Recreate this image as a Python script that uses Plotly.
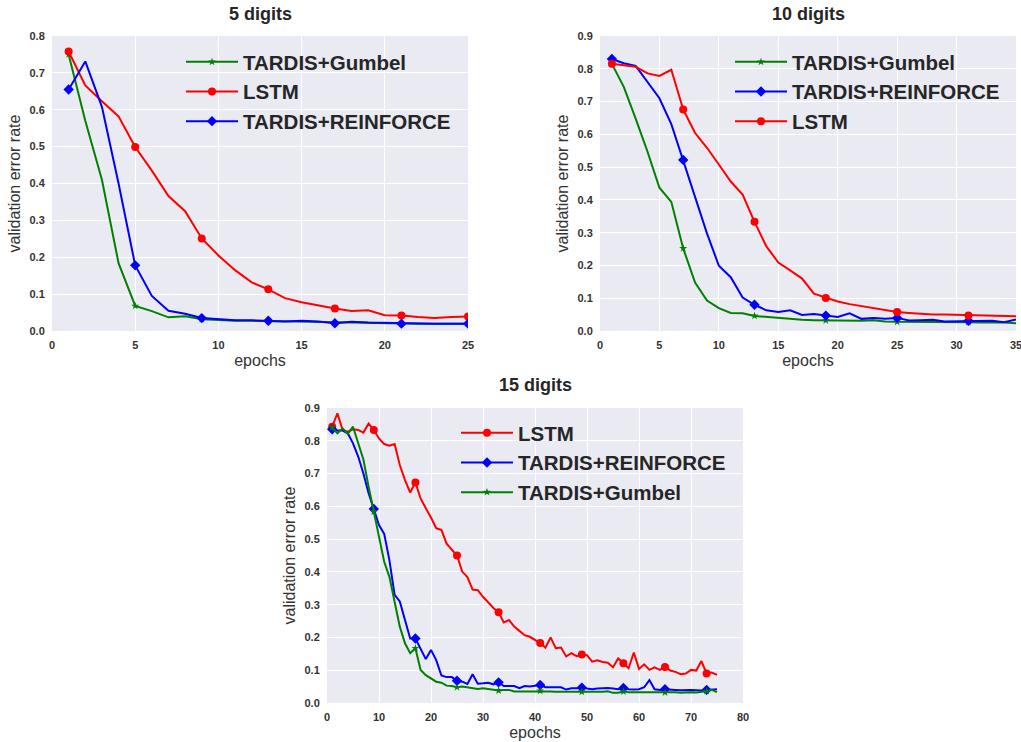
import plotly.graph_objects as go

# ---------------- data ----------------
epochs5 = list(range(1, 26))
gumbel5 = [0.750, 0.570, 0.410, 0.184, 0.068, 0.054, 0.037, 0.040, 0.032, 0.029,
           0.028, 0.028, 0.027, 0.026, 0.025, 0.025, 0.023, 0.023, 0.022, 0.021,
           0.021, 0.020, 0.020, 0.020, 0.020]
lstm5 = [0.758, 0.666, 0.623, 0.582, 0.499, 0.435, 0.366, 0.325, 0.251, 0.205,
         0.165, 0.132, 0.113, 0.089, 0.078, 0.069, 0.061, 0.054, 0.056, 0.043,
         0.042, 0.038, 0.035, 0.038, 0.039]
reinforce5 = [0.655, 0.731, 0.608, 0.400, 0.178, 0.095, 0.055, 0.047, 0.035, 0.032,
              0.029, 0.029, 0.028, 0.026, 0.028, 0.026, 0.021, 0.025, 0.023, 0.022,
              0.020, 0.020, 0.020, 0.020, 0.020]

epochs10 = list(range(1, 36))
gumbel10 = [0.815, 0.745, 0.648, 0.547, 0.437, 0.394, 0.252, 0.148, 0.093, 0.070,
            0.055, 0.054, 0.046, 0.043, 0.038, 0.036, 0.034, 0.033, 0.032, 0.032,
            0.031, 0.031, 0.033, 0.029, 0.028, 0.028, 0.029, 0.028, 0.027, 0.027,
            0.027, 0.026, 0.027, 0.026, 0.024]
reinforce10 = [0.830, 0.817, 0.809, 0.760, 0.710, 0.631, 0.522, 0.414, 0.298, 0.199,
               0.164, 0.102, 0.080, 0.063, 0.058, 0.063, 0.049, 0.052, 0.047, 0.043,
               0.054, 0.037, 0.040, 0.037, 0.040, 0.032, 0.033, 0.034, 0.029, 0.029,
               0.031, 0.030, 0.031, 0.027, 0.035]
lstm10 = [0.815, 0.811, 0.806, 0.786, 0.778, 0.797, 0.676, 0.604, 0.559, 0.508,
          0.456, 0.416, 0.333, 0.258, 0.209, 0.185, 0.160, 0.114, 0.101, 0.090,
          0.082, 0.076, 0.070, 0.064, 0.058, 0.055, 0.052, 0.050, 0.050, 0.049,
          0.047, 0.046, 0.045, 0.045, 0.045]

epochs15 = list(range(1, 76))
lstm15 = [0.843, 0.884, 0.833, 0.828, 0.835, 0.833, 0.825, 0.853, 0.833, 0.807,
          0.790, 0.785, 0.790, 0.726, 0.680, 0.642, 0.673, 0.624, 0.594, 0.566,
          0.533, 0.528, 0.486, 0.468, 0.450, 0.401, 0.384, 0.346, 0.344, 0.324,
          0.307, 0.290, 0.277, 0.246, 0.253, 0.233, 0.220, 0.207, 0.202, 0.192,
          0.183, 0.169, 0.200, 0.167, 0.169, 0.142, 0.152, 0.143, 0.148, 0.146,
          0.126, 0.130, 0.125, 0.123, 0.109, 0.136, 0.121, 0.106, 0.154, 0.104,
          0.118, 0.101, 0.109, 0.101, 0.110, 0.099, 0.095, 0.088, 0.090, 0.101,
          0.099, 0.128, 0.090, 0.093, 0.086]
reinforce15 = [0.835, 0.831, 0.831, 0.823, 0.792, 0.752, 0.700, 0.640, 0.592, 0.543,
               0.516, 0.436, 0.330, 0.310, 0.253, 0.197, 0.197, 0.167, 0.134, 0.162,
               0.131, 0.084, 0.079, 0.079, 0.068, 0.065, 0.058, 0.088, 0.059, 0.060,
               0.062, 0.057, 0.063, 0.052, 0.053, 0.052, 0.045, 0.052, 0.050, 0.052,
               0.055, 0.048, 0.048, 0.050, 0.048, 0.041, 0.045, 0.045, 0.047, 0.044,
               0.042, 0.044, 0.045, 0.046, 0.044, 0.042, 0.046, 0.042, 0.041, 0.042,
               0.048, 0.070, 0.042, 0.040, 0.042, 0.040, 0.040, 0.039, 0.040, 0.040,
               0.039, 0.038, 0.040, 0.040, 0.042]
gumbel15 = [0.841, 0.823, 0.838, 0.821, 0.843, 0.792, 0.743, 0.660, 0.584, 0.507,
            0.431, 0.385, 0.314, 0.233, 0.182, 0.152, 0.167, 0.101, 0.085, 0.075,
            0.065, 0.062, 0.053, 0.052, 0.048, 0.050, 0.048, 0.045, 0.043, 0.045,
            0.042, 0.040, 0.038, 0.040, 0.040, 0.035, 0.035, 0.035, 0.035, 0.035,
            0.037, 0.035, 0.035, 0.034, 0.034, 0.034, 0.035, 0.034, 0.034, 0.033,
            0.033, 0.033, 0.034, 0.036, 0.031, 0.031, 0.035, 0.033, 0.033, 0.032,
            0.032, 0.032, 0.032, 0.033, 0.032, 0.034, 0.033, 0.031, 0.033, 0.033,
            0.032, 0.033, 0.036, 0.040, 0.033]

titles = ["5 digits", "10 digits", "15 digits"]
x_ticks5 = [0, 5, 10, 15, 20, 25]
x_ticks10 = [0, 5, 10, 15, 20, 25, 30, 35]
x_ticks15 = [0, 10, 20, 30, 40, 50, 60, 70, 80]

# ---------------- styling ----------------
W, H = 1021, 742
FONT = "Liberation Sans, Arial, sans-serif"
TXT = "#333333"
STY = {
    "TARDIS+Gumbel": dict(color="#008000", symbol="star", size=6),
    "LSTM": dict(color="#FF0000", symbol="circle", size=8),
    "TARDIS+REINFORCE": dict(color="#0000FF", symbol="diamond", size=8),
}

fig = go.Figure()


def add_panel(x, series, every, xa, ya, legend):
    for name, y in series:
        s = STY[name]
        fig.add_trace(go.Scatter(x=x, y=y, mode="lines", line=dict(color=s["color"], width=2),
                                 xaxis=xa, yaxis=ya, showlegend=False, name=name))
        fig.add_trace(go.Scatter(x=x[::every], y=y[::every], mode="markers",
                                 marker=dict(color=s["color"], symbol=s["symbol"], size=s["size"]),
                                 xaxis=xa, yaxis=ya, showlegend=False, name=name))
    for name, y in series:
        s = STY[name]
        fig.add_trace(go.Scatter(x=[None], y=[None], mode="lines+markers", name=name,
                                 line=dict(color=s["color"], width=2),
                                 marker=dict(color=s["color"], symbol=s["symbol"], size=s["size"]),
                                 xaxis=xa, yaxis=ya, legend=legend, showlegend=True))


add_panel(epochs5, [("TARDIS+Gumbel", gumbel5), ("LSTM", lstm5), ("TARDIS+REINFORCE", reinforce5)],
          4, "x", "y", "legend")
add_panel(epochs10, [("TARDIS+Gumbel", gumbel10), ("TARDIS+REINFORCE", reinforce10), ("LSTM", lstm10)],
          6, "x2", "y2", "legend2")
add_panel(epochs15, [("LSTM", lstm15), ("TARDIS+REINFORCE", reinforce15), ("TARDIS+Gumbel", gumbel15)],
          8, "x3", "y3", "legend3")


def px_x(p):
    return p / W


def px_y(p):
    return 1 - p / H


tickfont = dict(family=FONT, size=11, color=TXT, weight="bold")
titlefont = dict(family=FONT, size=16, color=TXT)
common = dict(showgrid=True, gridcolor="white", gridwidth=1.3, zeroline=False, showline=False,
              automargin=False, ticks="outside", ticklen=4, tickcolor="rgba(0,0,0,0)",
              tickfont=tickfont, ticklabeloverflow="allow")


def xax(dom, rng, tv, anchor):
    return dict(domain=dom, range=rng, tickvals=tv, anchor=anchor,
                title=dict(text="epochs", font=titlefont, standoff=4), **common)


def yax(dom, rng, tv, anchor):
    return dict(domain=dom, range=rng, tickvals=tv, tickformat=".1f", anchor=anchor,
                title=dict(text="validation error rate", font=titlefont, standoff=4), **common)


top = [px_y(331), px_y(36)]
bot = [px_y(703), px_y(408)]
yt8 = [i / 10 for i in range(9)]
yt9 = [i / 10 for i in range(10)]

legfont = dict(family=FONT, size=20.5, color="#262626", weight="bold")
legcommon = dict(font=legfont, bgcolor="rgba(0,0,0,0)", xanchor="left", yanchor="top",
                 itemwidth=52, tracegroupgap=0)

fig.update_layout(
    width=W, height=H,
    margin=dict(l=0, r=0, t=0, b=0, autoexpand=False),
    paper_bgcolor="white", plot_bgcolor="#EAEAF2",
    font=dict(family=FONT, color=TXT),
    xaxis=xax([px_x(52), px_x(468)], [0, 25], x_ticks5, "y"),
    yaxis=yax(top, [0, 0.8], yt8, "x"),
    xaxis2=xax([px_x(600), px_x(1016)], [0, 35], x_ticks10, "y2"),
    yaxis2=yax(top, [0, 0.9], yt9, "x2"),
    xaxis3=xax([px_x(327), px_x(743)], [0, 80], x_ticks15, "y3"),
    yaxis3=yax(bot, [0, 0.9], yt9, "x3"),
    legend=dict(x=px_x(181), y=px_y(42), **legcommon),
    legend2=dict(x=px_x(730), y=px_y(42), **legcommon),
    legend3=dict(x=px_x(456), y=px_y(413), **legcommon),
    showlegend=True,
)

title_font = dict(family=FONT, size=18, color="#262626", weight="bold")
for t, xc, yc in [(titles[0], (52 + 468) / 2, 14), (titles[1], (600 + 1016) / 2, 14),
                  (titles[2], (327 + 743) / 2, 385)]:
    fig.add_annotation(text=t, x=px_x(xc), y=px_y(yc), xref="paper", yref="paper",
                       showarrow=False, font=title_font, xanchor="center", yanchor="middle",
                       borderpad=0)

# remove the browser's default 8px page margin so the figure fills the window
fig.write_html("out.html", config={"displayModeBar": False},
               post_script="document.body.style.margin='0px';")
